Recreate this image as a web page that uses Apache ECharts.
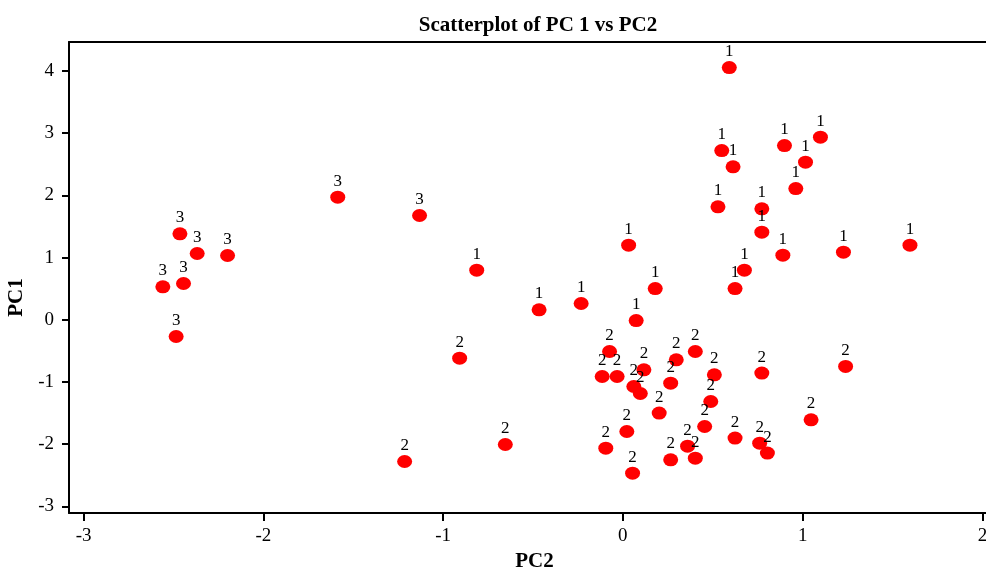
<!DOCTYPE html>
<html>
<head>
<meta charset="utf-8">
<script src="https://cdn.jsdelivr.net/npm/echarts@6/dist/echarts.min.js"></script>
<style>html,body{margin:0;padding:0;background:#fff;}#c{width:986px;height:570px;}</style>
</head>
<body>
<div id="c"></div>
<script>
// Cluster 1 (PC2 on x, PC1 on y)
const pc2Cluster1 = [0.592,0.550,0.613,0.899,1.099,1.016,0.962,0.529,0.773,0.773,0.032,0.890,1.227,1.597,0.676,0.624,0.180,-0.232,0.074,-0.813,-0.466];
const pc1Cluster1 = [4.056,2.722,2.460,2.802,2.937,2.535,2.111,1.817,1.785,1.409,1.201,1.040,1.088,1.201,0.799,0.503,0.503,0.262,-0.012,0.799,0.161];
// Cluster 2
const pc2Cluster2 = [-0.074,0.403,0.297,0.117,-0.115,-0.032,0.509,0.773,1.239,0.266,0.061,0.097,0.489,0.202,1.047,0.455,0.022,0.624,0.761,0.804,0.360,-0.095,0.266,0.403,0.054,-0.908,-0.654,-1.214];
const pc1Cluster2 = [-0.509,-0.509,-0.643,-0.804,-0.911,-0.911,-0.884,-0.857,-0.750,-1.018,-1.072,-1.185,-1.313,-1.500,-1.608,-1.715,-1.796,-1.902,-1.983,-2.143,-2.031,-2.063,-2.251,-2.224,-2.465,-0.616,-2.005,-2.278];
// Cluster 3
const pc2Cluster3 = [-1.586,-1.131,-2.464,-2.368,-2.199,-2.444,-2.559,-2.485];
const pc1Cluster3 = [1.972,1.677,1.383,1.066,1.034,0.584,0.531,-0.268];

const clusterNames = ['1','2','3'];
const xTickValues = [-3,-2,-1,0,1,2];
const yTickValues = [-3,-2,-1,0,1,2,3,4];

const FONT = '"Liberation Serif","Times New Roman",serif';
const clusters = [[pc2Cluster1,pc1Cluster1],[pc2Cluster2,pc1Cluster2],[pc2Cluster3,pc1Cluster3]];

const series = clusters.map((c, i) => ({
  type: 'scatter',
  name: clusterNames[i],
  data: c[0].map((x, k) => [x, c[1][k]]),
  symbol: 'circle',
  symbolSize: [15, 13],
  itemStyle: { color: '#ff0000', opacity: 1 },
  label: {
    show: true, position: 'top', distance: 1,
    formatter: () => clusterNames[i],
    color: '#000', fontFamily: FONT, fontSize: 17
  },
  emphasis: { disabled: true },
  xAxisIndex: 0, yAxisIndex: 0
}));

const axisLineStyle = { color: '#000', width: 2 };
const chart = echarts.init(document.getElementById('c'));
chart.setOption({
  animation: false,
  title: {
    text: 'Scatterplot of PC 1 vs PC2',
    left: 533, top: 10, textAlign: 'center',
    textStyle: { fontFamily: FONT, fontWeight: 'bold', fontSize: 21, color: '#000' }
  },
  grid: { left: 69, right: 0, top: 42, bottom: 57, containLabel: false, outerBoundsMode: 'none' },
  xAxis: [{
    type: 'value', min: -3.081, max: 2.020,
    name: 'PC2', nameLocation: 'middle', nameGap: 27,
    nameTextStyle: { fontFamily: FONT, fontWeight: 'bold', fontSize: 21, color: '#000', padding: [0, 0, 0, 14] },
    axisLine: { show: true, onZero: false, lineStyle: axisLineStyle },
    axisTick: { show: true, customValues: xTickValues, length: 8, lineStyle: { color: '#000', width: 2 } },
    axisLabel: { customValues: xTickValues, margin: 14, fontFamily: FONT, fontSize: 19, color: '#000' },
    splitLine: { show: false }
  }, {
    type: 'value', position: 'top', min: -3.081, max: 2.020,
    axisLine: { show: true, onZero: false, lineStyle: axisLineStyle },
    axisTick: { show: false }, axisLabel: { show: false }, splitLine: { show: false }
  }],
  yAxis: {
    type: 'value', min: -3.106, max: 4.467,
    name: 'PC1', nameLocation: 'middle', nameGap: 38, nameRotate: 90,
    nameTextStyle: { fontFamily: FONT, fontWeight: 'bold', fontSize: 21, color: '#000', padding: [0, 40, 0, 0] },
    axisLine: { show: true, onZero: false, lineStyle: axisLineStyle },
    axisTick: { show: true, customValues: yTickValues, length: 7, lineStyle: { color: '#000', width: 2 } },
    axisLabel: { customValues: yTickValues, margin: 15, fontFamily: FONT, fontSize: 19, color: '#000' },
    splitLine: { show: false }
  },
  series: series
});
</script>
</body>
</html>
